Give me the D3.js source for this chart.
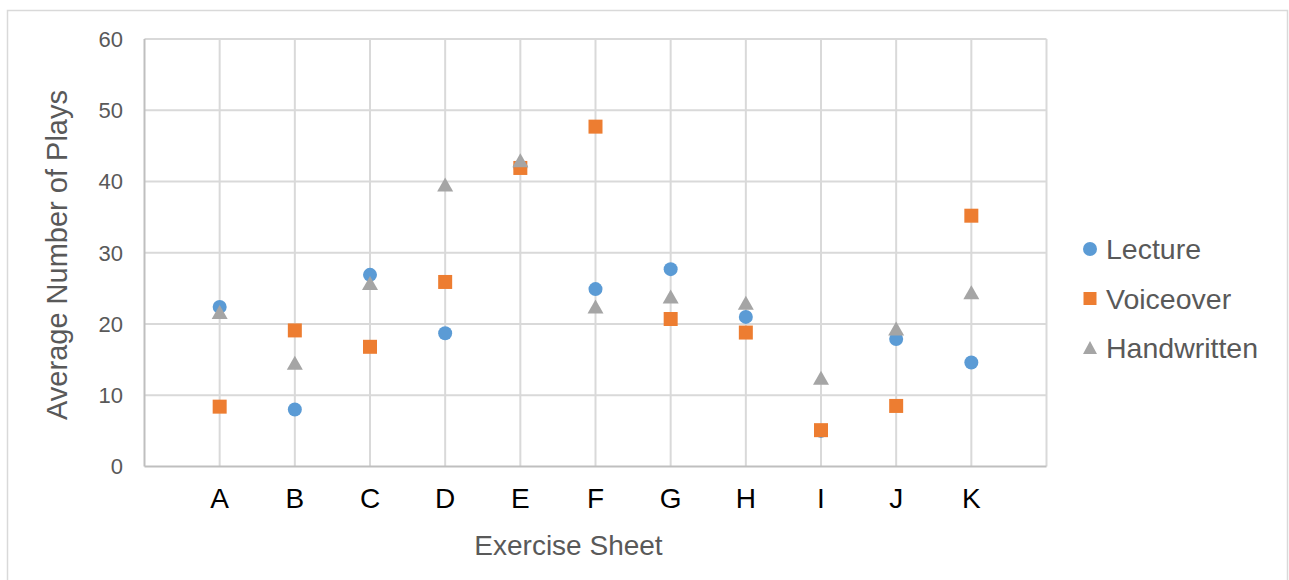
<!DOCTYPE html>
<html>
<head>
<meta charset="utf-8">
<script src="https://cdnjs.cloudflare.com/ajax/libs/d3/7.8.5/d3.min.js"></script>
<style>
  body { margin: 0; background: #fff; }
  text { font-family: "Liberation Sans", Arial, sans-serif; }
</style>
</head>
<body>
<div id="chart"></div>
<script>
var categories = ["A", "B", "C", "D", "E", "F", "G", "H", "I", "J", "K"]
var lecture = [22.4, 8.0, 26.9, 18.7, 42.0, 24.9, 27.7, 21.0, 5.0, 17.9, 14.6]
var voiceover = [8.4, 19.1, 16.8, 25.9, 41.9, 47.7, 20.7, 18.8, 5.1, 8.5, 35.2]
var handwritten = [21.6, 14.5, 25.7, 39.5, 42.9, 22.4, 23.8, 22.9, 12.4, 19.3, 24.4]
var yTicks = [0, 10, 20, 30, 40, 50, 60]

var series = [
  { name: "Lecture", values: lecture, color: "#5B9BD5", shape: "circle" },
  { name: "Voiceover", values: voiceover, color: "#ED7D31", shape: "square" },
  { name: "Handwritten", values: handwritten, color: "#A5A5A5", shape: "triangle" }
]

var width = 1289, height = 580
var plot = { left: 144.5, right: 1046.5, top: 39, bottom: 466.5 }

var svg = d3.select("#chart").append("svg")
  .attr("width", width)
  .attr("height", height)

// outer chart border
svg.append("rect")
  .attr("x", 7.5).attr("y", 10.5)
  .attr("width", 1280).attr("height", 600)
  .attr("fill", "#fff")
  .attr("stroke", "#D9D9D9")
  .attr("stroke-width", 1.5)

var x = d3.scaleLinear()
  .domain([0, categories.length + 1])
  .range([plot.left, plot.right])

var y = d3.scaleLinear()
  .domain([0, 60])
  .range([plot.bottom, plot.top])

// gridlines
var grid = svg.append("g")
grid.selectAll("line.h")
  .data(yTicks.slice(1))
  .join("line")
    .attr("class", "h")
    .attr("x1", plot.left).attr("x2", plot.right)
    .attr("y1", d => y(d)).attr("y2", d => y(d))
    .attr("stroke", "#D9D9D9")
    .attr("stroke-width", 2)

grid.selectAll("line.v")
  .data(d3.range(1, categories.length + 2))
  .join("line")
    .attr("class", "v")
    .attr("x1", d => x(d)).attr("x2", d => x(d))
    .attr("y1", plot.top).attr("y2", plot.bottom)
    .attr("stroke", "#D9D9D9")
    .attr("stroke-width", 2)

// axis lines
svg.append("line")
  .attr("x1", plot.left).attr("x2", plot.left)
  .attr("y1", plot.top).attr("y2", plot.bottom)
  .attr("stroke", "#BFBFBF").attr("stroke-width", 2)
svg.append("line")
  .attr("x1", plot.left).attr("x2", plot.right)
  .attr("y1", plot.bottom).attr("y2", plot.bottom)
  .attr("stroke", "#BFBFBF").attr("stroke-width", 2)

// y tick labels
svg.append("g").selectAll("text")
  .data(yTicks)
  .join("text")
    .attr("x", 123)
    .attr("y", d => y(d))
    .attr("dy", "0.36em")
    .attr("text-anchor", "end")
    .attr("fill", "#595959")
    .style("font-size", "22px")
    .text(d => d)

// category labels
svg.append("g").selectAll("text")
  .data(categories)
  .join("text")
    .attr("x", (d, i) => x(i + 1))
    .attr("y", 508)
    .attr("text-anchor", "middle")
    .attr("fill", "#000")
    .style("font-size", "28px")
    .text(d => d)

// axis titles
svg.append("text")
  .attr("x", 568.5).attr("y", 555)
  .attr("text-anchor", "middle")
  .attr("fill", "#595959")
  .style("font-size", "28px")
  .text("Exercise Sheet")

svg.append("text")
  .attr("transform", "translate(67,255) rotate(-90)")
  .attr("text-anchor", "middle")
  .attr("fill", "#595959")
  .style("font-size", "29px")
  .text("Average Number of Plays")

function markerPath(shape) {
  if (shape === "circle") return d3.symbol(d3.symbolCircle, Math.PI * 49)()
  if (shape === "square") return d3.symbol(d3.symbolSquare, 196)()
  return "M0,-7.5L8,6.5L-8,6.5Z"
}

// markers
series.forEach(s => {
  svg.append("g").selectAll("path")
    .data(s.values)
    .join("path")
      .attr("transform", (d, i) => `translate(${x(i + 1)},${y(d)})`)
      .attr("d", markerPath(s.shape))
      .attr("fill", s.color)
})

// legend
var legend = svg.append("g").selectAll("g")
  .data(series)
  .join("g")
    .attr("transform", (d, i) => `translate(1090,${249 + i * 49.5})`)

legend.append("path")
  .attr("d", d => d.shape === "circle" ? d3.symbol(d3.symbolCircle, Math.PI * 49)()
    : d.shape === "square" ? d3.symbol(d3.symbolSquare, 169)()
    : "M0,-7L7,6L-7,6Z")
  .attr("fill", d => d.color)

legend.append("text")
  .attr("x", 16)
  .attr("dy", "0.36em")
  .attr("fill", "#595959")
  .style("font-size", "28.5px")
  .text(d => d.name)
</script>
</body>
</html>
